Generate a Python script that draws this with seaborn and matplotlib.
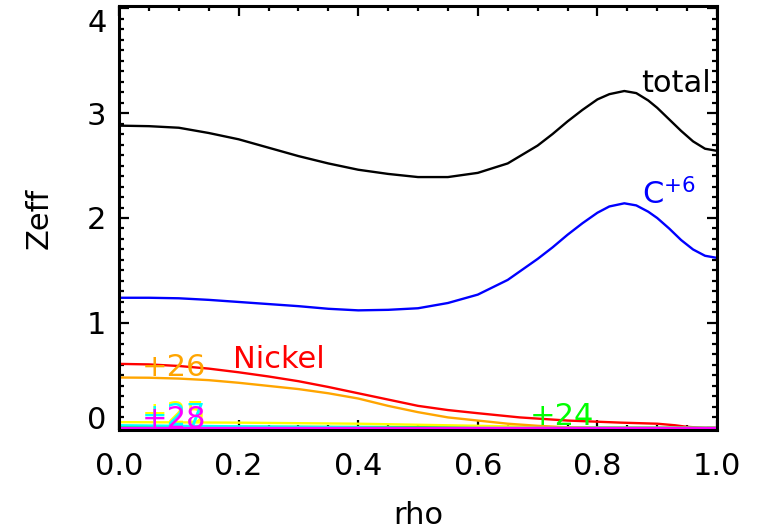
import matplotlib
matplotlib.use("Agg")
import matplotlib.pyplot as plt
import matplotlib.transforms as mtransforms
from matplotlib.ticker import MultipleLocator
import pandas as pd
import seaborn as sns

# Effective charge profiles versus normalized radius
rho_total = [0.0, 0.05, 0.1, 0.15, 0.2, 0.25, 0.3, 0.35, 0.4, 0.45, 0.5, 0.55,
             0.6, 0.65, 0.7, 0.725, 0.75, 0.775, 0.8, 0.82, 0.845, 0.865, 0.885,
             0.9, 0.92, 0.94, 0.96, 0.98, 1.0]
zeff_total = [2.88, 2.875, 2.86, 2.81, 2.75, 2.67, 2.59, 2.52, 2.46, 2.42, 2.39,
              2.39, 2.43, 2.52, 2.69, 2.80, 2.92, 3.03, 3.13, 3.18, 3.21, 3.19,
              3.12, 3.05, 2.94, 2.83, 2.73, 2.66, 2.64]

rho_carbon = [0.0, 0.05, 0.1, 0.15, 0.2, 0.25, 0.3, 0.35, 0.4, 0.45, 0.5, 0.55,
              0.6, 0.65, 0.7, 0.725, 0.75, 0.775, 0.8, 0.82, 0.845, 0.865, 0.885,
              0.9, 0.92, 0.94, 0.96, 0.98, 1.0]
zeff_carbon = [1.24, 1.24, 1.235, 1.22, 1.20, 1.18, 1.16, 1.135, 1.12, 1.125, 1.14,
               1.19, 1.27, 1.41, 1.61, 1.72, 1.84, 1.95, 2.05, 2.11, 2.14, 2.12,
               2.06, 2.00, 1.90, 1.79, 1.70, 1.64, 1.62]

rho_nickel = [0.0, 0.05, 0.1, 0.15, 0.2, 0.25, 0.3, 0.35, 0.4, 0.45, 0.5, 0.55,
              0.6, 0.67, 0.75, 0.84, 0.9, 0.93, 0.95, 0.98, 1.0]
zeff_nickel = [0.61, 0.605, 0.59, 0.565, 0.53, 0.49, 0.445, 0.39, 0.33, 0.27,
               0.21, 0.17, 0.14, 0.10, 0.07, 0.05, 0.04, 0.025, 0.01, 0.0, 0.0]

rho_ni26 = [0.0, 0.05, 0.1, 0.15, 0.2, 0.25, 0.3, 0.35, 0.4, 0.45, 0.5, 0.55,
            0.6, 0.65, 0.7, 0.75, 0.8, 1.0]
zeff_ni26 = [0.48, 0.478, 0.47, 0.455, 0.43, 0.40, 0.37, 0.33, 0.28, 0.21, 0.15,
             0.10, 0.07, 0.04, 0.02, 0.005, 0.0, 0.0]

rho_ni25 = [0.0, 0.2, 0.4, 0.5, 0.6, 0.7, 0.8, 1.0]
zeff_ni25 = [0.055, 0.05, 0.04, 0.03, 0.02, 0.01, 0.0, 0.0]

rho_ni27 = [0.0, 0.2, 0.4, 0.5, 1.0]
zeff_ni27 = [0.025, 0.015, 0.005, 0.0, 0.0]

rho_ni24 = [0.0, 0.3, 0.5, 0.7, 0.9, 1.0]
zeff_ni24 = [0.01, 0.01, 0.008, 0.005, 0.002, 0.0]

rho_ni28 = [0.0, 1.0]
zeff_ni28 = [0.0, 0.0]

series_names = ["total", "C+6", "Nickel", "+24", "+25", "+26", "+27", "+28"]
series_colors = ["black", "#0000ff", "#ff0000", "#00ff00", "#ffff00",
                 "#ffa500", "#00ffff", "#ff00ff"]

frames = []
for name, r, z in [("total", rho_total, zeff_total),
                   ("C+6", rho_carbon, zeff_carbon),
                   ("Nickel", rho_nickel, zeff_nickel),
                   ("+24", rho_ni24, zeff_ni24),
                   ("+25", rho_ni25, zeff_ni25),
                   ("+26", rho_ni26, zeff_ni26),
                   ("+27", rho_ni27, zeff_ni27),
                   ("+28", rho_ni28, zeff_ni28)]:
    frames.append(pd.DataFrame({"rho": r, "Zeff": z, "species": name}))
df = pd.concat(frames, ignore_index=True)

sns.set_theme(style="ticks")
plt.rcParams["font.family"] = ["DejaVu Sans"]
plt.rcParams["mathtext.default"] = "regular"

fig = plt.figure(figsize=(7.62, 5.32), dpi=100)
ax = fig.add_axes([119 / 762, 1 - 430 / 532, 598 / 762, 424 / 532])

sns.lineplot(data=df, x="rho", y="Zeff", hue="species", hue_order=series_names,
             palette=dict(zip(series_names, series_colors)), sort=False,
             estimator=None, linewidth=1.7, legend=False, ax=ax)

ax.set_xlim(0, 1.0)
ax.set_ylim(-0.02, 4.02)
ax.set_xticks([0.0, 0.2, 0.4, 0.6, 0.8, 1.0])
ax.set_xticklabels(["0.0", "0.2", "0.4", "0.6", "0.8", "1.0"])
ax.set_yticks([0, 1, 2, 3, 4])
ax.set_yticklabels(["0", "1", "2", "3", "4"])
ax.xaxis.set_minor_locator(MultipleLocator(0.05))
ax.yaxis.set_minor_locator(MultipleLocator(0.1))

for s in ax.spines.values():
    s.set_visible(True)
    s.set_linewidth(2.2)
    s.set_color("black")
ax.tick_params(which="both", direction="in", top=True, right=True,
               color="black", width=1.6, labelsize=22, labelcolor="black")
ax.tick_params(which="major", length=7.5)
ax.tick_params(which="minor", length=3.8)
ax.tick_params(axis="x", which="major", pad=16)
ax.tick_params(axis="y", which="major", pad=9)

# keep end labels of the y axis inside the frame
ylabels = ax.get_yticklabels()
ylabels[0].set_transform(ylabels[0].get_transform() +
                         mtransforms.ScaledTranslation(0, 10 / 100, fig.dpi_scale_trans))
ylabels[-1].set_transform(ylabels[-1].get_transform() +
                          mtransforms.ScaledTranslation(0, -12 / 100, fig.dpi_scale_trans))

ax.set_xlabel("rho", fontsize=22, labelpad=14, color="black")
ax.set_ylabel("Zeff", fontsize=22, labelpad=24, color="black")

fs = 22
ax.text(0.99, 3.20, "total", color="black", fontsize=fs, ha="right", va="baseline")
ax.text(0.875, 2.13, "C$^{+6}$", color="#0000ff", fontsize=fs, ha="left", va="baseline")
ax.text(0.19, 0.57, "Nickel", color="#ff0000", fontsize=fs, ha="left", va="baseline")
ax.text(0.038, 0.49, "+26", color="#ffa500", fontsize=fs, ha="left", va="baseline")
ax.text(0.687, 0.03, "+24", color="#00ff00", fontsize=fs, ha="left", va="baseline")
ax.text(0.038, 0.05, "+25", color="#ffff00", fontsize=fs, ha="left", va="baseline")
ax.text(0.038, 0.03, "+27", color="#00ffff", fontsize=fs, ha="left", va="baseline")
ax.text(0.038, 0.0, "+28", color="#ff00ff", fontsize=fs, ha="left", va="baseline")

fig.savefig("out.png", dpi=100)
